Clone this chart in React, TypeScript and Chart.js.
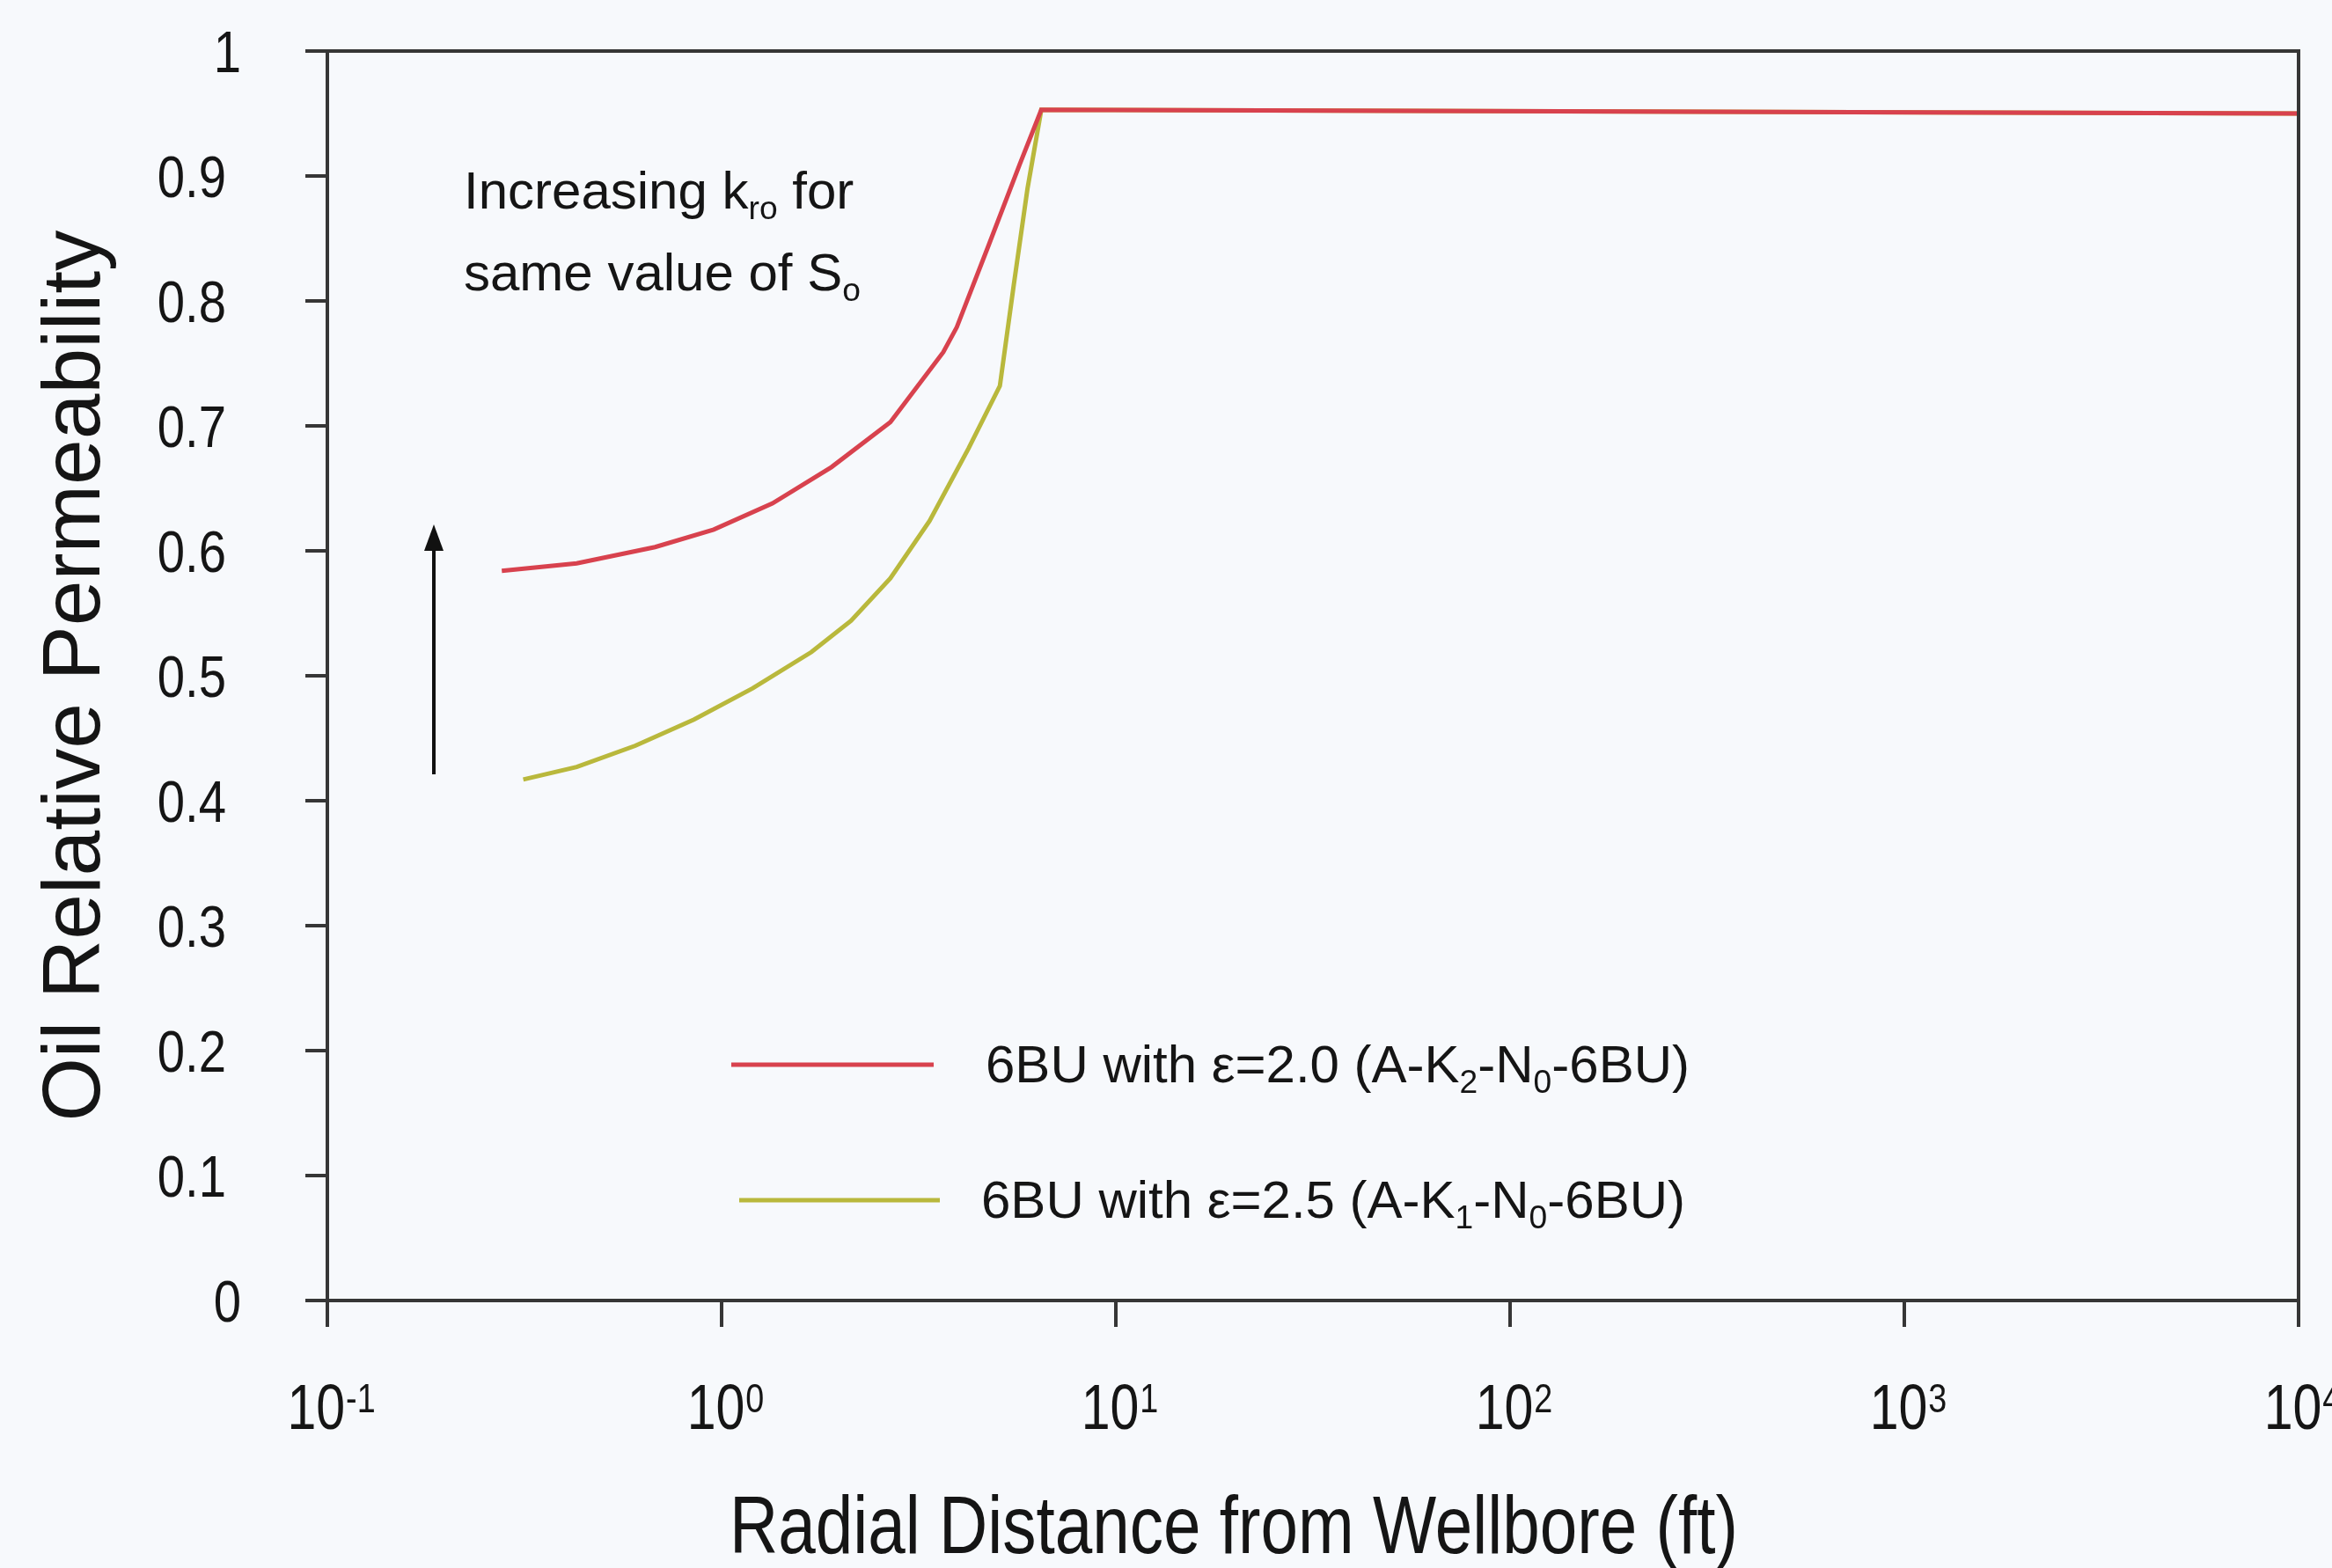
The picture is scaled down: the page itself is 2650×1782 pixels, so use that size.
import { useEffect, useRef } from 'react';
import { Chart, registerables } from 'chart.js';

Chart.register(...registerables);

// Axis ticks
const xTickValues = [0.1, 1, 10, 100, 1000, 10000];
const xTickBase = '10';
const xTickExponents = ['-1', '0', '1', '2', '3', '4'];
const yTickValues = [0, 0.1, 0.2, 0.3, 0.4, 0.5, 0.6, 0.7, 0.8, 0.9, 1];
const yTickLabels = ['0', '0.1', '0.2', '0.3', '0.4', '0.5', '0.6', '0.7', '0.8', '0.9', '1'];

// Series names
const seriesLabels = ['6BU with ε=2.0 (A-K₂-N₀-6BU)', '6BU with ε=2.5 (A-K₁-N₀-6BU)'];

// ε = 2.0 profile: radial distance (ft) and oil relative permeability
const distanceEps20 = [0.277, 0.429, 0.678, 0.955, 1.346, 1.9, 2.68, 3.65, 3.95, 4.75, 5.7, 6.47, 10000];
const kroEps20 = [0.584, 0.59, 0.603, 0.617, 0.638, 0.667, 0.703, 0.759, 0.779, 0.844, 0.909, 0.953, 0.95];

// ε = 2.5 profile
const distanceEps25 = [0.314, 0.429, 0.604, 0.851, 1.2, 1.69, 2.13, 2.68, 3.37, 4.23, 5.08, 5.51, 5.97, 6.47, 10000];
const kroEps25 = [0.417, 0.427, 0.444, 0.465, 0.49, 0.519, 0.544, 0.578, 0.624, 0.682, 0.732, 0.813, 0.89, 0.953, 0.95];

// Rich-text pieces (sub = subscript)
type Piece = { t: string; sub?: boolean };
const legendTexts: Piece[][] = [
  [{ t: '6BU with ε=2.0 (A-K' }, { t: '2', sub: true }, { t: '-N' }, { t: '0', sub: true }, { t: '-6BU)' }],
  [{ t: '6BU with ε=2.5 (A-K' }, { t: '1', sub: true }, { t: '-N' }, { t: '0', sub: true }, { t: '-6BU)' }],
];
const noteLines: Piece[][] = [
  [{ t: 'Increasing k' }, { t: 'ro', sub: true }, { t: ' for' }],
  [{ t: 'same value of S' }, { t: 'o', sub: true }],
];
const xTitle = 'Radial Distance from Wellbore (ft)';
const yTitle = 'Oil Relative Permeability';

const RED = '#d8424e';
const YELLOW = '#b9b83c';
const AXIS = '#363636';
const TEXT = '#151515';
const BG = '#f7f9fc';
const SANS = "'Liberation Sans', Arial, 'DejaVu Sans', sans-serif";
const CONDENSE = 0.82; // horizontal squeeze for the narrow axis lettering

function drawRich(ctx: CanvasRenderingContext2D, pieces: Piece[], x: number, baseline: number, size: number, family: string) {
  let cx = x;
  ctx.textAlign = 'left';
  ctx.textBaseline = 'alphabetic';
  for (const p of pieces) {
    const s = p.sub ? size * 0.62 : size;
    ctx.font = `${s}px ${family}`;
    const y = p.sub ? baseline + size * 0.2 : baseline;
    ctx.fillText(p.t, cx, y);
    cx += ctx.measureText(p.t).width;
  }
}

const backgroundPlugin = {
  id: 'pageBackground',
  beforeDraw(chart: Chart) {
    const { ctx, width, height } = chart;
    ctx.save();
    ctx.fillStyle = BG;
    ctx.fillRect(0, 0, width, height);
    ctx.restore();
  },
};

const framePlugin = {
  id: 'plotFrame',
  afterDatasetsDraw(chart: Chart) {
    const { ctx, chartArea } = chart;
    ctx.save();
    ctx.strokeStyle = AXIS;
    ctx.lineWidth = 4;
    ctx.beginPath();
    ctx.moveTo(chartArea.left - 2, chartArea.top);
    ctx.lineTo(chartArea.right, chartArea.top);
    ctx.lineTo(chartArea.right, chartArea.bottom + 2);
    ctx.stroke();
    ctx.restore();
  },
};

// Condensed tick labels placed with the chart's own scales
const tickLabelPlugin = {
  id: 'tickLabels',
  afterDraw(chart: Chart) {
    const { ctx } = chart;
    const xs = chart.scales.x;
    const ys = chart.scales.y;
    ctx.save();
    ctx.fillStyle = TEXT;

    // y axis: right aligned (whole numbers sit a little further right)
    ctx.font = `67px ${SANS}`;
    ctx.textAlign = 'right';
    ctx.textBaseline = 'middle';
    yTickValues.forEach((v, i) => {
      const py = ys.getPixelForValue(v) + 6;
      const right = yTickLabels[i].length === 1 ? 274 : 257;
      ctx.save();
      ctx.translate(right, py);
      ctx.scale(0.84, 1);
      ctx.fillText(yTickLabels[i], 0, 0);
      ctx.restore();
    });

    // x axis: powers of ten with raised exponent
    const baseSize = 72;
    const expSize = 46;
    const baseline = 1624;
    const digitTop = baseline - baseSize * 0.716;
    const expBaseline = digitTop + expSize * 0.716;
    ctx.textAlign = 'left';
    ctx.textBaseline = 'alphabetic';
    xTickValues.forEach((v, i) => {
      const px = xs.getPixelForValue(v);
      ctx.font = `${baseSize}px ${SANS}`;
      const wb = ctx.measureText(xTickBase).width * CONDENSE;
      ctx.font = `${expSize}px ${SANS}`;
      const we = ctx.measureText(xTickExponents[i]).width * CONDENSE;
      const start = px + 4 - (wb + we) / 2;
      ctx.save();
      ctx.translate(start, baseline);
      ctx.scale(CONDENSE, 1);
      ctx.font = `${baseSize}px ${SANS}`;
      ctx.fillText(xTickBase, 0, 0);
      ctx.restore();
      ctx.save();
      ctx.translate(start + wb + 1, expBaseline);
      ctx.scale(CONDENSE, 1);
      ctx.font = `${expSize}px ${SANS}`;
      ctx.fillText(xTickExponents[i], 0, 0);
      ctx.restore();
    });
    ctx.restore();
  },
};

const notesPlugin = {
  id: 'notes',
  afterDraw(chart: Chart) {
    const { ctx } = chart;
    ctx.save();
    ctx.fillStyle = TEXT;

    // annotation text
    drawRich(ctx, noteLines[0], 527, 237, 60, SANS);
    drawRich(ctx, noteLines[1], 527, 330, 60, SANS);

    // upward arrow
    ctx.strokeStyle = '#111';
    ctx.lineWidth = 4;
    ctx.beginPath();
    ctx.moveTo(493, 880);
    ctx.lineTo(493, 615);
    ctx.stroke();
    ctx.fillStyle = '#111';
    ctx.beginPath();
    ctx.moveTo(493, 596);
    ctx.lineTo(504, 626);
    ctx.lineTo(482, 626);
    ctx.closePath();
    ctx.fill();

    // legend
    const rows = [
      { x1: 831, x2: 1061, y: 1210, tx: 1120 },
      { x1: 840, x2: 1068, y: 1364, tx: 1115 },
    ];
    chart.data.datasets.forEach((ds, i) => {
      const r = rows[i];
      ctx.strokeStyle = ds.borderColor as string;
      ctx.lineWidth = 5;
      ctx.beginPath();
      ctx.moveTo(r.x1, r.y);
      ctx.lineTo(r.x2, r.y);
      ctx.stroke();
      ctx.fillStyle = TEXT;
      drawRich(ctx, legendTexts[i], r.tx, r.y + 20, 60, SANS);
    });

    // x axis title, squeezed to the narrow lettering
    ctx.fillStyle = TEXT;
    ctx.font = `92px ${SANS}`;
    ctx.textAlign = 'left';
    ctx.textBaseline = 'alphabetic';
    const w = ctx.measureText(xTitle).width;
    ctx.save();
    ctx.translate(829, 1765);
    ctx.scale(1146 / w, 1);
    ctx.fillText(xTitle, 0, 0);
    ctx.restore();
    ctx.restore();
  },
};

export default function App() {
  const ref = useRef<HTMLCanvasElement>(null);

  useEffect(() => {
    const canvas = ref.current;
    if (!canvas) return;
    const chart = new Chart(canvas, {
      type: 'line',
      data: {
        datasets: [
          {
            label: seriesLabels[0],
            data: distanceEps20.map((x, i) => ({ x, y: kroEps20[i] })),
            borderColor: RED,
            backgroundColor: RED,
            borderWidth: 5,
            pointRadius: 0,
            tension: 0,
            fill: false,
          },
          {
            label: seriesLabels[1],
            data: distanceEps25.map((x, i) => ({ x, y: kroEps25[i] })),
            borderColor: YELLOW,
            backgroundColor: YELLOW,
            borderWidth: 5,
            pointRadius: 0,
            tension: 0,
            fill: false,
          },
        ],
      },
      options: {
        responsive: false,
        animation: false,
        devicePixelRatio: 1,
        layout: { padding: { top: 58, right: 38, left: 0, bottom: 0 } },
        plugins: {
          legend: { display: false },
          tooltip: { enabled: false },
        },
        scales: {
          x: {
            type: 'logarithmic',
            position: 'bottom',
            min: 0.1,
            max: 10000,
            afterBuildTicks: (axis: any) => {
              axis.ticks = xTickValues.map((v) => ({ value: v }));
            },
            afterFit: (axis: any) => {
              axis.height = 304;
              axis.paddingLeft = 0;
              axis.paddingRight = 0;
            },
            ticks: { display: false, autoSkip: false },
            grid: { drawOnChartArea: false, drawTicks: true, tickLength: 30, color: AXIS, lineWidth: 4 },
            border: { display: true, color: AXIS, width: 4 },
          },
          y: {
            type: 'linear',
            position: 'left',
            min: 0,
            max: 1,
            afterBuildTicks: (axis: any) => {
              axis.ticks = yTickValues.map((v) => ({ value: v }));
            },
            afterFit: (axis: any) => {
              axis.width = 372;
              axis.paddingTop = 0;
              axis.paddingBottom = 0;
            },
            ticks: { display: false },
            grid: { drawOnChartArea: false, drawTicks: true, tickLength: 25, color: AXIS, lineWidth: 4 },
            border: { display: true, color: AXIS, width: 4 },
            title: {
              display: true,
              text: yTitle,
              color: TEXT,
              font: { family: SANS, size: 93 },
              padding: { top: 32, bottom: 0 },
            },
          },
        },
      },
      plugins: [backgroundPlugin, framePlugin, tickLabelPlugin, notesPlugin],
    });
    return () => chart.destroy();
  }, []);

  return (
    <div style={{ position: 'absolute', left: 0, top: 0, width: 2650, height: 1782 }}>
      <canvas ref={ref} width={2650} height={1782} style={{ display: 'block', width: 2650, height: 1782 }} />
    </div>
  );
}
